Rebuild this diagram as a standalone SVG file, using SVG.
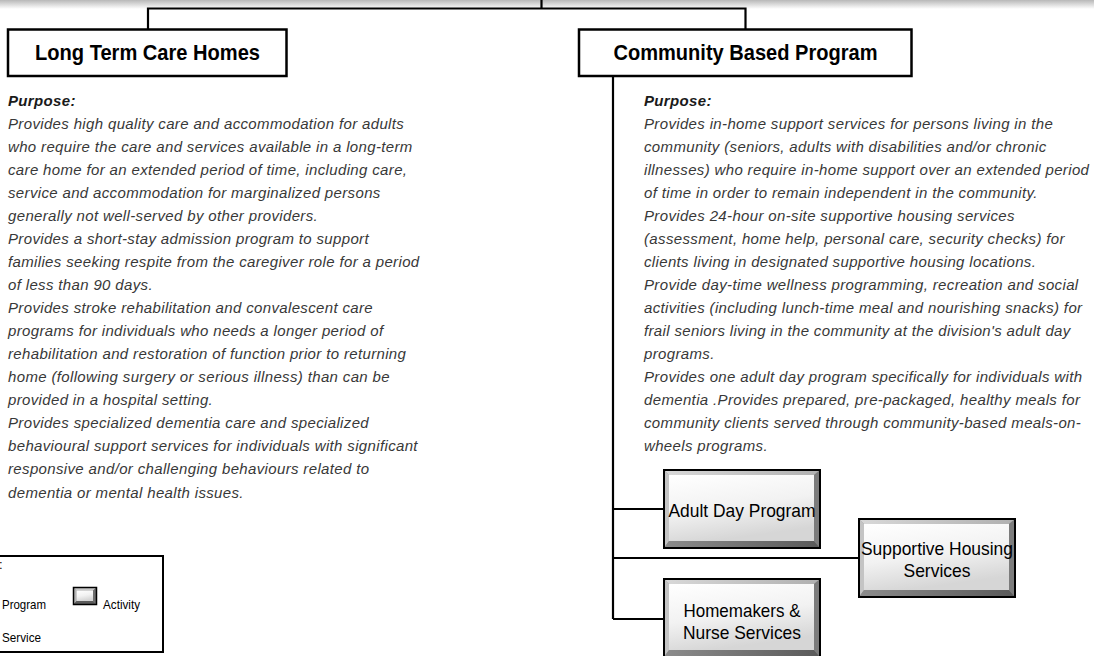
<svg xmlns="http://www.w3.org/2000/svg" width="1094" height="656" viewBox="0 0 1094 656">
  <style>
    .hdr { fill: #fff; stroke: #000; stroke-width: 2.5; }
    .hdr-t { font-family: "Liberation Sans", Arial, sans-serif; font-weight: bold; font-size: 22px; fill: #000; text-anchor: middle; }
    .body { font-family: "Liberation Sans", Arial, sans-serif; font-style: italic; font-size: 15px; letter-spacing: 0.35px; fill: #383838; }
    .body .h { font-weight: bold; fill: #1a1a1a; }
    .act-t { font-family: "Liberation Sans", Arial, sans-serif; font-size: 19px; fill: #000; text-anchor: middle; }
    .leg-t { font-family: "Liberation Sans", Arial, sans-serif; font-size: 13px; fill: #000; }
    .conn { stroke: #000; stroke-width: 2.2; fill: none; }
  </style>
  <defs>
    <linearGradient id="band" x1="0" y1="0" x2="0" y2="1">
      <stop offset="0" stop-color="#b8b8b8"/>
      <stop offset="1" stop-color="#ffffff"/>
    </linearGradient>
    <linearGradient id="face" x1="0" y1="0" x2="0.3" y2="1">
      <stop offset="0" stop-color="#ffffff"/>
      <stop offset="0.55" stop-color="#f2f2f2"/>
      <stop offset="1" stop-color="#d6d6d6"/>
    </linearGradient>
    <linearGradient id="topbev" x1="0" y1="0" x2="1" y2="0">
      <stop offset="0" stop-color="#d8d8d8"/>
      <stop offset="1" stop-color="#b0b0b0"/>
    </linearGradient>
    <linearGradient id="botbev" x1="0" y1="0" x2="1" y2="0">
      <stop offset="0" stop-color="#8c8c8c"/>
      <stop offset="1" stop-color="#5a5a5a"/>
    </linearGradient>
    <!-- bevelled activity box, 158 x 80 -->
    <g id="actbox">
      <rect x="1" y="1" width="156" height="78" fill="#9a9a9a"/>
      <polygon points="1,1 157,1 151,6 6,6" fill="url(#topbev)"/>
      <polygon points="1,1 6,6 6,72 1,79" fill="#c4c4c4"/>
      <polygon points="157,1 157,79 151,72 151,6" fill="#7c7c7c"/>
      <polygon points="1,79 6,72 151,72 157,79" fill="url(#botbev)"/>
      <rect x="6" y="6" width="145" height="66" fill="url(#face)"/>
      <rect x="1" y="1" width="156" height="78" fill="none" stroke="#000" stroke-width="2"/>
    </g>
    <!-- small bevelled box for the key -->
    <g id="keybox">
      <rect x="0.5" y="0.5" width="23" height="17" fill="#8a8a8a"/>
      <polygon points="0.5,0.5 23.5,0.5 20,3.5 3.5,3.5" fill="#c8c8c8"/>
      <polygon points="0.5,0.5 3.5,3.5 3.5,14 0.5,17.5" fill="#b4b4b4"/>
      <polygon points="23.5,0.5 23.5,17.5 20,14 20,3.5" fill="#6e6e6e"/>
      <polygon points="0.5,17.5 3.5,14 20,14 23.5,17.5" fill="#5c5c5c"/>
      <rect x="3.5" y="3.5" width="16.5" height="10.5" fill="url(#face)"/>
      <rect x="0.5" y="0.5" width="23" height="17" fill="none" stroke="#000" stroke-width="1.5"/>
    </g>
  </defs>

  <rect x="0" y="0" width="1094" height="656" fill="#fff"/>
  <rect x="0" y="0" width="1094" height="9" fill="url(#band)"/>

  <!-- connectors -->
  <g id="connectors" class="conn">
    <line x1="541.5" y1="0" x2="541.5" y2="8.5"/>
    <polyline points="148,29 148,8.5 745.5,8.5 745.5,29"/>
    <line x1="613" y1="76" x2="613" y2="619"/>
    <line x1="613" y1="509" x2="663" y2="509"/>
    <line x1="613" y1="558" x2="858" y2="558"/>
    <line x1="613" y1="619" x2="663" y2="619"/>
  </g>

  <!-- Long Term Care Homes -->
  <g id="ltc">
    <rect class="hdr" x="8" y="29.5" width="278.5" height="46.5"/>
    <text class="hdr-t" x="147.5" y="60" textLength="225" lengthAdjust="spacingAndGlyphs">Long Term Care Homes</text>
  </g>
  <g id="ltc-purpose" class="body">
    <text x="8" y="106" class="h">Purpose:</text>
    <text x="8" y="129">Provides high quality care and accommodation for adults</text>
    <text x="8" y="152">who require the care and services available in a long-term</text>
    <text x="8" y="175">care home for an extended period of time, including care,</text>
    <text x="8" y="198">service and accommodation for marginalized persons</text>
    <text x="8" y="221">generally not well-served by other providers.</text>
    <text x="8" y="244">Provides a short-stay admission program to support</text>
    <text x="8" y="267">families seeking respite from the caregiver role for a period</text>
    <text x="8" y="290">of less than 90 days.</text>
    <text x="8" y="313">Provides stroke rehabilitation and convalescent care</text>
    <text x="8" y="336">programs for individuals who needs a longer period of</text>
    <text x="8" y="359">rehabilitation and restoration of function prior to returning</text>
    <text x="8" y="382">home (following surgery or serious illness) than can be</text>
    <text x="8" y="405">provided in a hospital setting.</text>
    <text x="8" y="428">Provides specialized dementia care and specialized</text>
    <text x="8" y="451">behavioural support services for individuals with significant</text>
    <text x="8" y="474">responsive and/or challenging behaviours related to</text>
    <text x="8" y="498">dementia or mental health issues.</text>
  </g>

  <!-- Community Based Program -->
  <g id="cbp">
    <rect class="hdr" x="579" y="29.5" width="332.5" height="46.5"/>
    <text class="hdr-t" x="745.5" y="60" textLength="264" lengthAdjust="spacingAndGlyphs">Community Based Program</text>
  </g>
  <g id="cbp-purpose" class="body">
    <text x="644" y="106" class="h">Purpose:</text>
    <text x="644" y="129">Provides in-home support services for persons living in the</text>
    <text x="644" y="152">community (seniors, adults with disabilities and/or chronic</text>
    <text x="644" y="175">illnesses) who require in-home support over an extended period</text>
    <text x="644" y="198">of time in order to remain independent in the community.</text>
    <text x="644" y="221">Provides 24-hour on-site supportive housing services</text>
    <text x="644" y="244">(assessment, home help, personal care, security checks) for</text>
    <text x="644" y="267">clients living in designated supportive housing locations.</text>
    <text x="644" y="290">Provide day-time wellness programming, recreation and social</text>
    <text x="644" y="313">activities (including lunch-time meal and nourishing snacks) for</text>
    <text x="644" y="336">frail seniors living in the community at the division's adult day</text>
    <text x="644" y="359">programs.</text>
    <text x="644" y="382">Provides one adult day program specifically for individuals with</text>
    <text x="644" y="405">dementia .Provides prepared, pre-packaged, healthy meals for</text>
    <text x="644" y="428">community clients served through community-based meals-on-</text>
    <text x="644" y="451">wheels programs.</text>
  </g>

  <!-- activities -->
  <g id="adult-day">
    <use href="#actbox" x="663" y="469"/>
    <text class="act-t" x="742" y="517" textLength="147" lengthAdjust="spacingAndGlyphs">Adult Day Program</text>
  </g>
  <g id="supportive-housing">
    <use href="#actbox" x="858" y="518"/>
    <text class="act-t" x="937" y="555" textLength="152" lengthAdjust="spacingAndGlyphs">Supportive Housing</text>
    <text class="act-t" x="937" y="577" textLength="67" lengthAdjust="spacingAndGlyphs">Services</text>
  </g>
  <g id="homemakers">
    <use href="#actbox" x="663" y="578"/>
    <text class="act-t" x="742" y="617" textLength="117" lengthAdjust="spacingAndGlyphs">Homemakers &amp;</text>
    <text class="act-t" x="742" y="639" textLength="118" lengthAdjust="spacingAndGlyphs">Nurse Services</text>
  </g>

  <!-- key -->
  <g id="legend">
    <rect x="-4" y="556" width="167" height="96" fill="#fff" stroke="#000" stroke-width="2"/>
    <text class="leg-t" x="-1" y="569">:</text>
    <text class="leg-t" x="2" y="609" textLength="44" lengthAdjust="spacingAndGlyphs">Program</text>
    <use href="#keybox" x="73" y="587"/>
    <text class="leg-t" x="103" y="609" textLength="37" lengthAdjust="spacingAndGlyphs">Activity</text>
    <text class="leg-t" x="2" y="642" textLength="39" lengthAdjust="spacingAndGlyphs">Service</text>
  </g>
</svg>
